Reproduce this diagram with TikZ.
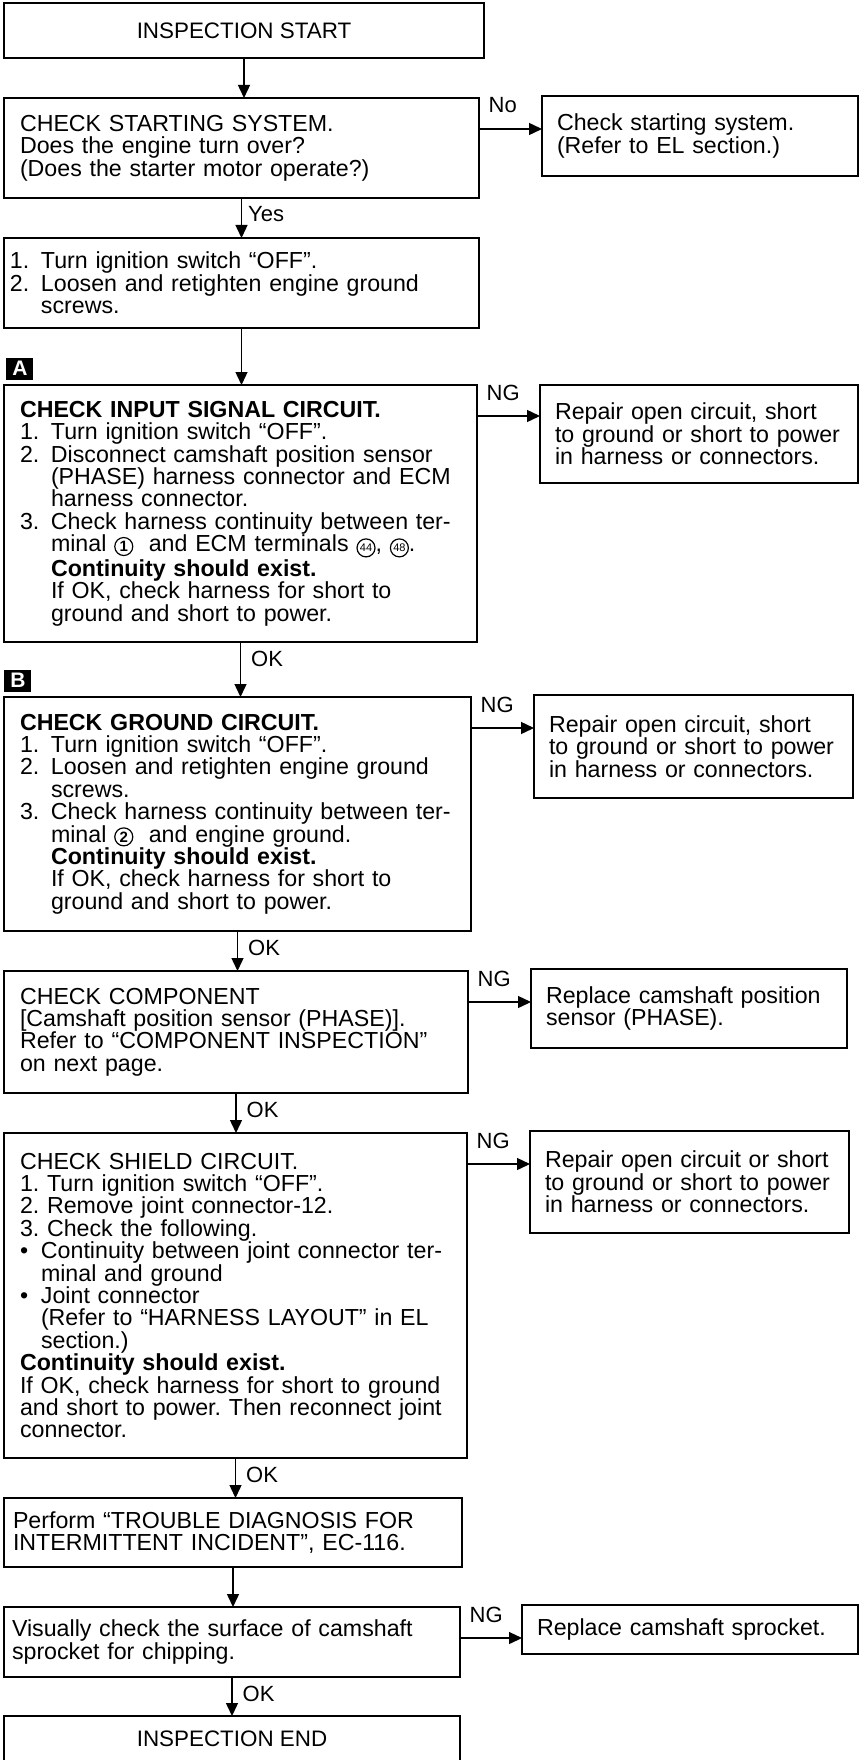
\documentclass[tikz,border=0pt]{standalone}
\usepackage{fontspec}
\setmainfont{Liberation Sans}
\usepackage{tikz}
\usetikzlibrary{arrows.meta, positioning}

\newcommand{\bodyfont}{\fontsize{11.6}{11.2}\selectfont\frenchspacing}
\newcommand{\lblfont}{\fontsize{11}{12}\selectfont}
\newcommand{\termfont}{\fontsize{11.2}{12}\selectfont}
\newcommand{\itm}[1]{\makebox[15.5pt][l]{#1}}
\newcommand{\itmind}{\hspace*{15.5pt}}
\newcommand{\blt}{\makebox[10.5pt][l]{\textbullet}}
\newcommand{\bltind}{\hspace*{10.5pt}}
\newcommand{\termno}[2][5.5pt]{\tikz[baseline=(tn.base)]\node[circle, draw,
  line width=0.6pt, minimum size=9pt, inner sep=0pt, outer sep=0pt,
  text width=, anchor=center, font=\fontsize{#1}{#1}\selectfont] (tn) {#2};}
\setlength{\lineskiplimit}{-20pt}

\tikzset{
  stepbox/.style={rectangle, draw, line width=1pt, outer sep=0pt,
                  inner xsep=8pt, inner ysep=2pt, anchor=north west,
                  align=left, font=\bodyfont},
  fixbox/.style={stepbox, inner xsep=7.5pt},
  termbox/.style={rectangle, draw, line width=1pt, outer sep=0pt,
                  inner sep=0pt, anchor=north west, font=\termfont},
  tagbox/.style={rectangle, fill=black, text=white, inner sep=0pt,
                 minimum width=13.5pt, minimum height=11pt,
                 font=\bfseries\fontsize{10.5}{10.5}\selectfont},
  arr/.style={-{Triangle[length=6.5pt, width=6pt]}, line width=0.7pt},
  lbl/.style={inner sep=1pt, font=\lblfont},
  oklbl/.style={lbl, pos=0, anchor=base west, xshift=4pt, yshift=-12pt},
  nglbl/.style={lbl, pos=0, anchor=base west, xshift=3.5pt, yshift=8pt},
}

\begin{document}
\begin{tikzpicture}[x=0.5pt, y=-0.5pt]

  \useasboundingbox (0,0) rectangle (861,1760);
  \clip (0,0) rectangle (861,1760);

  \node[termbox, minimum width=240pt, minimum height=27.5pt] (start) at (4,3)
    {INSPECTION START};

  \node[stepbox, text width=221.5pt, minimum height=50pt,
        below=20pt of start.south west, anchor=north west] (chk2)
    {CHECK STARTING SYSTEM.\\
     Does the engine turn over?\\
     (Does the starter motor operate?)};

  \node[stepbox, inner xsep=3pt, text width=231.5pt, minimum height=45pt,
        below=20pt of chk2.south west, anchor=north west] (prep)
    {\itm{1.}Turn ignition switch “OFF”.\\
     \itm{2.}Loosen and retighten engine ground\\
     \itmind screws.};

  \node[stepbox, text width=220.5pt, minimum height=128.5pt,
        below=28.5pt of prep.south west, anchor=north west] (chkA)
    {\textbf{CHECK INPUT SIGNAL CIRCUIT.}\\
     \itm{1.}Turn ignition switch “OFF”.\\
     \itm{2.}Disconnect camshaft position sensor\\
     \itmind (PHASE) harness connector and ECM\\
     \itmind harness connector.\\
     \itm{3.}Check harness continuity between ter-\\
     \itmind minal \termno[7.5pt]{\bfseries 1}~ and ECM terminals \termno{44}, \termno{48}.\\
     \itmind\textbf{Continuity should exist.}\\
     \itmind If OK, check harness for short to\\
     \itmind ground and short to power.};

  \node[stepbox, text width=217.5pt, minimum height=117pt,
        below=27.5pt of chkA.south west, anchor=north west] (chkB)
    {\textbf{CHECK GROUND CIRCUIT.}\\
     \itm{1.}Turn ignition switch “OFF”.\\
     \itm{2.}Loosen and retighten engine ground\\
     \itmind screws.\\
     \itm{3.}Check harness continuity between ter-\\
     \itmind minal \termno[7.5pt]{\bfseries 2}~ and engine ground.\\
     \itmind\textbf{Continuity should exist.}\\
     \itmind If OK, check harness for short to\\
     \itmind ground and short to power.};

  \node[stepbox, text width=216pt, minimum height=61pt,
        below=20pt of chkB.south west, anchor=north west] (chkC)
    {CHECK COMPONENT\\
     {[}Camshaft position sensor (PHASE)].\\
     Refer to “COMPONENT INSPECTION”\\
     on next page.};

  \node[stepbox, text width=215.5pt, minimum height=162.5pt,
        below=20pt of chkC.south west, anchor=north west] (chkD)
    {CHECK SHIELD CIRCUIT.\\
     1. Turn ignition switch “OFF”.\\
     2. Remove joint connector-12.\\
     3. Check the following.\\
     \blt Continuity between joint connector ter-\\
     \bltind minal and ground\\
     \blt Joint connector\\
     \bltind (Refer to “HARNESS LAYOUT” in EL\\
     \bltind section.)\\
     \textbf{Continuity should exist.}\\
     If OK, check harness for short to ground\\
     and short to power. Then reconnect joint\\
     connector.};

  \node[stepbox, inner xsep=4.5pt, text width=220pt, minimum height=34.5pt,
        below=20pt of chkD.south west, anchor=north west] (perf)
    {Perform “TROUBLE DIAGNOSIS FOR\\
     INTERMITTENT INCIDENT”, EC-116.};

  \node[stepbox, inner xsep=4pt, text width=220pt, minimum height=35pt,
        below=20pt of perf.south west, anchor=north west] (vis)
    {Visually check the surface of camshaft\\
     sprocket for chipping.};

  \node[termbox, minimum width=228pt, minimum height=23pt,
        below=19.5pt of vis.south west, anchor=north west] (fin)
    {INSPECTION END};

  \node[fixbox, text width=143pt, minimum height=40pt,
        above right=1pt and 31.5pt of chk2.north east, anchor=north west] (sw)
    {Check starting system.\\
     (Refer to EL section.)};

  \node[fixbox, text width=144pt, minimum height=49pt,
        above right=0pt and 31.5pt of chkA.north east, anchor=north west] (repA)
    {Repair open circuit, short\\
     to ground or short to power\\
     in harness or connectors.};

  \node[fixbox, text width=144.5pt, minimum height=51.5pt,
        above right=1pt and 31.5pt of chkB.north east, anchor=north west] (repB)
    {Repair open circuit, short\\
     to ground or short to power\\
     in harness or connectors.};

  \node[fixbox, text width=143pt, minimum height=39.5pt,
        above right=1pt and 31.5pt of chkC.north east, anchor=north west] (repC)
    {Replace camshaft position\\
     sensor (PHASE).};

  \node[fixbox, text width=144.5pt, minimum height=51pt,
        above right=1pt and 31.5pt of chkD.north east, anchor=north west] (repD)
    {Repair open circuit or short\\
     to ground or short to power\\
     in harness or connectors.};

  \node[fixbox, text width=153pt, minimum height=24.5pt,
        above right=1pt and 31pt of vis.north east, anchor=north west] (repS)
    {Replace camshaft sprocket.};

  \node[tagbox, above right=2.5pt and 1pt of chkA.north west] (tagA) {A};
  \node[tagbox, above right=2.5pt and 0pt of chkB.north west] (tagB) {B};

  \draw[arr] (start.south) -- (start.south |- chk2.north);
  \draw[arr] (chk2.south) -- (chk2.south |- prep.north)
    node[oklbl, xshift=-2pt] {Yes};
  \draw[arr] (prep.south) -- (prep.south |- chkA.north);
  \draw[arr] (chkA.south) -- (chkA.south |- chkB.north) node[oklbl] {OK};
  \draw[arr] (chkB.south) -- (chkB.south |- chkC.north) node[oklbl] {OK};
  \draw[arr] (chkC.south) -- (chkC.south |- chkD.north) node[oklbl] {OK};
  \draw[arr] (chkD.south) -- (chkD.south |- perf.north) node[oklbl] {OK};
  \draw[arr] (perf.south) -- (perf.south |- vis.north);
  \draw[arr] (vis.south) -- (vis.south |- fin.north) node[oklbl] {OK};

  \coordinate (no2) at ([yshift=-15.5pt]chk2.north east);
  \coordinate (ngA) at ([yshift=-15.5pt]chkA.north east);
  \coordinate (ngB) at ([yshift=-15.5pt]chkB.north east);
  \coordinate (ngC) at ([yshift=-15.5pt]chkC.north east);
  \coordinate (ngD) at ([yshift=-15.5pt]chkD.north east);
  \coordinate (ngV) at ([yshift=-15.5pt]vis.north east);

  \draw[arr] (no2) -- (no2 -| sw.west) node[nglbl] {No};
  \draw[arr] (ngA) -- (ngA -| repA.west) node[nglbl] {NG};
  \draw[arr] (ngB) -- (ngB -| repB.west) node[nglbl] {NG};
  \draw[arr] (ngC) -- (ngC -| repC.west) node[nglbl] {NG};
  \draw[arr] (ngD) -- (ngD -| repD.west) node[nglbl] {NG};
  \draw[arr] (ngV) -- (ngV -| repS.west) node[nglbl] {NG};

\end{tikzpicture}
\end{document}
